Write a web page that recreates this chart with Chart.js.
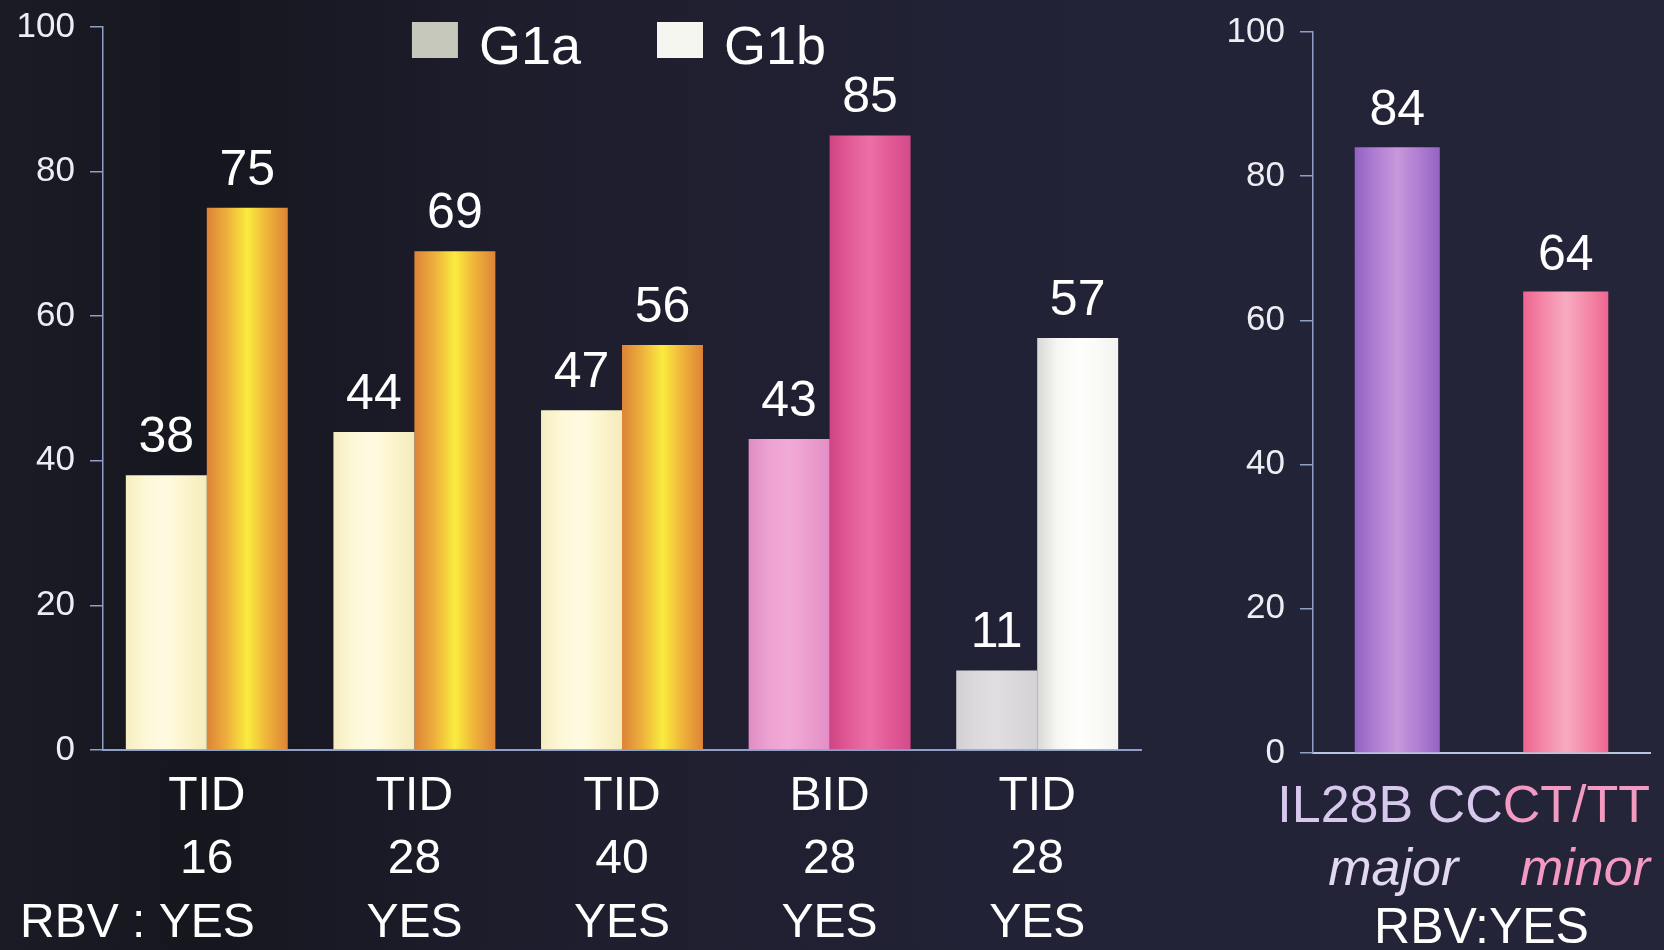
<!DOCTYPE html>
<html><head><meta charset="utf-8">
<script src="https://cdn.jsdelivr.net/npm/chart.js@4.4.1/dist/chart.umd.min.js"></script>
<style>
html,body{margin:0;padding:0;width:1664px;height:950px;overflow:hidden;background:#1f1f2e;}
#wrap{position:relative;width:1664px;height:950px;
  background:linear-gradient(90deg,#1b1b25 0%,#16161f 12%,#1d1d2c 30%,#222236 60%,#25253a 100%);}
#c1{position:absolute;left:0;top:0;}
#c2{position:absolute;left:1190px;top:0;}
</style></head>
<body><div id="wrap"><canvas id="c1" width="1190" height="950"></canvas><canvas id="c2" width="474" height="950"></canvas></div>
<script>
// ---------- data ----------
const categories = [["TID","16","YES"],["TID","28","YES"],["TID","40","YES"],["BID","28","YES"],["TID","28","YES"]];
const seriesNames = ["G1a","G1b"];
const g1aValues = [38,44,47,43,11];
const g1bValues = [75,69,56,85,57];
const ilCategories = ["IL28B CC","CT/TT"];
const ilSubLabels = ["major","minor"];
const ilValues = [84,64];
const yMin = 0, yMax = 100, yStep = 20;
const rbvPrefix = "RBV : ";
const rbvRight = "RBV:YES";

// ---------- styles ----------
const FONT = "'Liberation Sans', Arial, Helvetica, sans-serif";
const AXIS = "#8f9fc6";
const CAT_PCT = 0.78;
const cream = ["#f6eec0","#fdf8d8","#fffbe2","#fbf4cc","#f4ebbc"];
const orange = ["#dc8438","#eeb03c","#faec3e","#efb23a","#dd8436"];
const lpink = ["#e08cc4","#eda2d2","#f2aad6","#ec9ccf","#e38fc6"];
const hpink = ["#cf4484","#e25b96","#ec70a8","#e25996","#d44b8a"];
const lgrey = ["#d2d0d4","#dcdadc","#e0dee0","#dad8da","#d4d2d6"];
const white = ["#d8d8d6","#f6f6f2","#fefefc","#fafaf6","#f2f2ee"];
const purple = ["#9262c4","#b07ed2","#c898dc","#b07ed2","#9464c4"];
const rpink = ["#ee6490","#f48aa8","#f8aac2","#f48aa8","#ee6690"];
const g1aPal = [cream, cream, cream, lpink, lgrey];
const g1bPal = [orange, orange, orange, hpink, white];
const ilPal = [purple, rpink];
const legendSwatch = ["#c6c8bc","#f6f6f0"];

function makeGrad(chart, l, w, stops){
  const g = chart.ctx.createLinearGradient(l,0,l+w,0);
  const n = stops.length;
  stops.forEach((c,i)=>g.addColorStop(i/(n-1), c));
  return g;
}
function groupedGradient(pals, catPct){
  return function(ctx){
    const chart = ctx.chart, x = chart.scales.x;
    const pal = pals[ctx.datasetIndex][ctx.dataIndex];
    if (!x || !chart.chartArea || x.right === x.left) return pal[2];
    const n = chart.data.labels.length;
    const catW = (x.right - x.left)/n;
    const groupW = catW*catPct;
    const nds = chart.data.datasets.length;
    const bw = groupW/nds;
    const c = x.getPixelForValue(ctx.dataIndex);
    const l = c - groupW/2 + ctx.datasetIndex*bw;
    return makeGrad(chart, l, bw, pal);
  };
}

const valueLabels = {
  id:'valueLabels',
  afterDatasetsDraw(chart, args, opts){
    const ctx = chart.ctx; ctx.save();
    ctx.font = opts.font; ctx.fillStyle = opts.color;
    ctx.textAlign='center'; ctx.textBaseline='alphabetic';
    chart.data.datasets.forEach((ds,i)=>{
      chart.getDatasetMeta(i).data.forEach((el,j)=>{
        ctx.fillText(String(ds.data[j]), el.x, el.y - opts.gap);
      });
    });
    ctx.restore();
  }
};

const customLegend = {
  id:'customLegend',
  afterDraw(chart, args, opts){
    if (!opts.show) return;
    const ctx = chart.ctx; ctx.save();
    ctx.font = opts.font; ctx.textBaseline='middle'; ctx.textAlign='left';
    const sw=46, sh=36, gap=21, itemGap=76;
    const items = chart.data.datasets.map((d,i)=>({t:d.label, c:legendSwatch[i], w:ctx.measureText(d.label).width}));
    let total = items.reduce((s,it)=>s+sw+gap+it.w,0) + itemGap*(items.length-1);
    let x = (chart.chartArea.left+chart.chartArea.right)/2 - 3 - total/2;
    items.forEach(it=>{
      ctx.fillStyle = it.c; ctx.fillRect(x, 22, sw, sh);
      ctx.fillStyle = '#ffffff'; ctx.fillText(it.t, x+sw+gap, 49);
      x += sw+gap+it.w+itemGap;
    });
    ctx.restore();
  }
};

const rbvPlugin = {
  id:'rbvPrefix',
  afterDraw(chart, args, opts){
    if (!opts.show) return;
    const x = chart.scales.x, ctx = chart.ctx; ctx.save();
    ctx.font = opts.font; ctx.fillStyle = '#ffffff';
    ctx.textBaseline = 'middle'; ctx.textAlign='right';
    const c = x.getPixelForValue(0);
    const last = chart.data.labels[0][2];
    const w = ctx.measureText(last).width;
    ctx.fillText(rbvPrefix, c - w/2, opts.y);
    ctx.restore();
  }
};

const ilLabelPlugin = {
  id:'ilLabels',
  afterDraw(chart, args, opts){
    if (!opts.show) return;
    const x = chart.scales.x, ca = chart.chartArea, ctx = chart.ctx; ctx.save();
    ctx.textBaseline='alphabetic';
    ctx.font = "52px " + FONT;
    ctx.textAlign='right';
    const w2 = ctx.measureText(ilCategories[1]).width;
    ctx.fillStyle = '#f29ac2'; ctx.fillText(ilCategories[1], ca.right, 822);
    ctx.fillStyle = '#d8c8ee'; ctx.fillText(ilCategories[0], ca.right - w2, 822);
    ctx.font = "italic 52px " + FONT;
    ctx.fillStyle = '#f29ac2'; ctx.fillText(ilSubLabels[1], ca.right, 885);
    ctx.textAlign='center';
    ctx.fillStyle = '#e2d8f2'; ctx.fillText(ilSubLabels[0], x.getPixelForValue(0) - 4, 885);
    ctx.font = "50px " + FONT; ctx.fillStyle='#ffffff';
    ctx.fillText(rbvRight, (ca.left+ca.right)/2, 943);
    ctx.restore();
  }
};

Chart.register(valueLabels, customLegend, rbvPlugin, ilLabelPlugin);

function yAxis(width){
  return {
    min:yMin, max:yMax,
    ticks:{stepSize:yStep, color:'#eceef4', font:{family:FONT, size:35}, padding:15},
    grid:{display:true, drawOnChartArea:false, drawTicks:true, tickLength:13, color:AXIS, lineWidth:1.5},
    border:{display:true, color:AXIS, width:1.5},
    afterFit(s){ s.width = width; s.paddingTop = 0; s.paddingBottom = 0; }
  };
}

new Chart(document.getElementById('c1'), {
  type:'bar',
  data:{
    labels:categories,
    datasets:[
      {label:seriesNames[0], data:g1aValues, backgroundColor:groupedGradient([g1aPal,g1bPal], CAT_PCT), borderWidth:0},
      {label:seriesNames[1], data:g1bValues, backgroundColor:groupedGradient([g1aPal,g1bPal], CAT_PCT), borderWidth:0}
    ]
  },
  options:{
    responsive:false, animation:false, devicePixelRatio:1,
    layout:{padding:{top:27, right:49, left:0, bottom:0}},
    datasets:{bar:{categoryPercentage:CAT_PCT, barPercentage:1}},
    plugins:{
      legend:{display:false}, tooltip:{enabled:false},
      valueLabels:{font:"50px "+FONT, color:'#ffffff', gap:23},
      customLegend:{show:true, font:"54px "+FONT},
      rbvPrefix:{show:true, font:"48px "+FONT, y:924},
      ilLabels:{show:false}
    },
    scales:{
      x:{
        ticks:{color:'#ffffff', font:{family:FONT, size:48, lineHeight:1.323}, padding:7, maxRotation:0, autoSkip:false},
        grid:{display:false},
        border:{display:true, color:AXIS, width:2},
        afterFit(s){ s.height = 200; }
      },
      y:yAxis(103)
    }
  }
});

new Chart(document.getElementById('c2'), {
  type:'bar',
  data:{
    labels:ilCategories,
    datasets:[{label:'IL28B', data:ilValues, backgroundColor:groupedGradient([ilPal], 0.505), borderWidth:0}]
  },
  options:{
    responsive:false, animation:false, devicePixelRatio:1,
    layout:{padding:{top:32, right:14, left:0, bottom:0}},
    datasets:{bar:{categoryPercentage:0.505, barPercentage:1}},
    plugins:{
      legend:{display:false}, tooltip:{enabled:false},
      valueLabels:{font:"50px "+FONT, color:'#ffffff', gap:22},
      customLegend:{show:false},
      rbvPrefix:{show:false},
      ilLabels:{show:true}
    },
    scales:{
      x:{
        ticks:{display:false},
        grid:{display:false},
        border:{display:true, color:'#b8c4e0', width:2},
        afterFit(s){ s.height = 197; }
      },
      y:yAxis(123)
    }
  }
});
</script>
</body></html>
